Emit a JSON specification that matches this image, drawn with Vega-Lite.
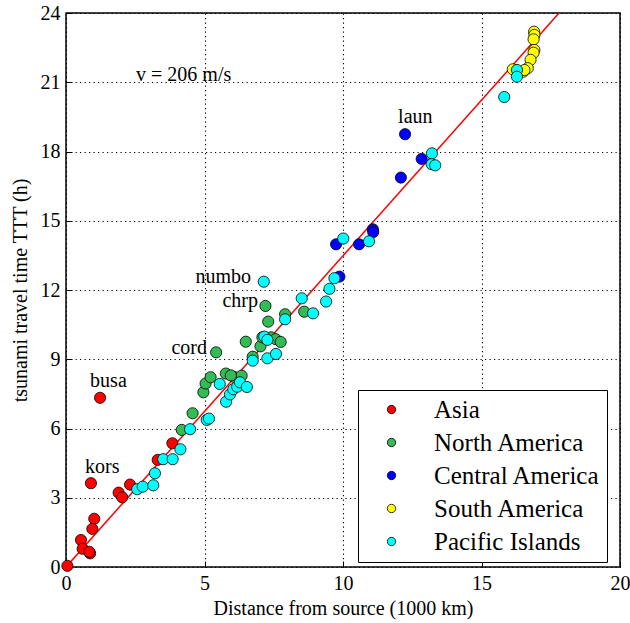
{
  "$schema": "https://vega.github.io/schema/vega-lite/v6.json",
  "autosize": "none",
  "width": 554,
  "height": 554,
  "padding": {"left": 66, "top": 13, "right": 10, "bottom": 56},
  "background": "white",
  "config": {
    "font": "Liberation Serif",
    "view": {"stroke": "black", "strokeWidth": 1.5},
    "axis": {
      "labelFont": "Liberation Serif",
      "titleFont": "Liberation Serif",
      "labelFontSize": 20,
      "titleFontSize": 20,
      "titleFontWeight": "normal",
      "labelColor": "black",
      "titleColor": "black",
      "domain": false,
      "tickColor": "black",
      "tickSize": -6,
      "tickWidth": 1,
      "gridColor": "black",
      "gridDash": [1.2, 3.3],
      "gridWidth": 1.1,
      "gridOpacity": 1,
      "labelPadding": 12
    }
  },
  "datasets": {
    "pts": [
      {"d": 0.05, "t": 0.05, "region": "Asia"},
      {"d": 0.54, "t": 1.17, "region": "Asia"},
      {"d": 0.6, "t": 0.79, "region": "Asia"},
      {"d": 0.87, "t": 0.59, "region": "Asia"},
      {"d": 0.84, "t": 0.66, "region": "Asia"},
      {"d": 1.02, "t": 2.09, "region": "Asia"},
      {"d": 0.95, "t": 1.65, "region": "Asia"},
      {"d": 0.9, "t": 3.63, "region": "Asia"},
      {"d": 1.23, "t": 7.33, "region": "Asia"},
      {"d": 1.9, "t": 3.22, "region": "Asia"},
      {"d": 2.03, "t": 3.02, "region": "Asia"},
      {"d": 2.31, "t": 3.57, "region": "Asia"},
      {"d": 3.31, "t": 4.64, "region": "Asia"},
      {"d": 3.84, "t": 5.36, "region": "Asia"},
      {"d": 4.18, "t": 5.94, "region": "North America"},
      {"d": 4.57, "t": 6.66, "region": "North America"},
      {"d": 4.96, "t": 7.57, "region": "North America"},
      {"d": 5.04, "t": 7.95, "region": "North America"},
      {"d": 5.22, "t": 8.22, "region": "North America"},
      {"d": 5.42, "t": 9.3, "region": "North America"},
      {"d": 5.77, "t": 8.38, "region": "North America"},
      {"d": 6.08, "t": 8.23, "region": "North America"},
      {"d": 6.34, "t": 8.29, "region": "North America"},
      {"d": 5.95, "t": 8.3, "region": "North America"},
      {"d": 6.49, "t": 9.76, "region": "North America"},
      {"d": 6.74, "t": 9.11, "region": "North America"},
      {"d": 7.02, "t": 9.56, "region": "North America"},
      {"d": 7.2, "t": 11.31, "region": "North America"},
      {"d": 7.3, "t": 10.63, "region": "North America"},
      {"d": 7.09, "t": 9.95, "region": "North America"},
      {"d": 7.4, "t": 9.95, "region": "North America"},
      {"d": 7.57, "t": 9.87, "region": "North America"},
      {"d": 7.75, "t": 9.75, "region": "North America"},
      {"d": 7.91, "t": 10.95, "region": "North America"},
      {"d": 8.6, "t": 11.06, "region": "North America"},
      {"d": 12.24, "t": 18.75, "region": "Central America"},
      {"d": 12.84, "t": 17.68, "region": "Central America"},
      {"d": 12.09, "t": 16.87, "region": "Central America"},
      {"d": 11.08, "t": 14.63, "region": "Central America"},
      {"d": 11.09, "t": 14.51, "region": "Central America"},
      {"d": 10.58, "t": 13.98, "region": "Central America"},
      {"d": 9.75, "t": 13.98, "region": "Central America"},
      {"d": 9.87, "t": 12.58, "region": "Central America"},
      {"d": 16.9, "t": 23.19, "region": "South America"},
      {"d": 16.91, "t": 23.05, "region": "South America"},
      {"d": 16.88, "t": 22.86, "region": "South America"},
      {"d": 16.91, "t": 22.4, "region": "South America"},
      {"d": 16.88, "t": 22.28, "region": "South America"},
      {"d": 16.77, "t": 21.97, "region": "South America"},
      {"d": 16.67, "t": 21.61, "region": "South America"},
      {"d": 16.51, "t": 21.46, "region": "South America"},
      {"d": 16.13, "t": 21.56, "region": "South America"},
      {"d": 16.55, "t": 21.53, "region": "South America"},
      {"d": 2.57, "t": 3.37, "region": "Pacific Islands"},
      {"d": 2.77, "t": 3.48, "region": "Pacific Islands"},
      {"d": 3.15, "t": 3.54, "region": "Pacific Islands"},
      {"d": 3.21, "t": 4.06, "region": "Pacific Islands"},
      {"d": 3.51, "t": 4.67, "region": "Pacific Islands"},
      {"d": 3.85, "t": 4.67, "region": "Pacific Islands"},
      {"d": 4.13, "t": 5.1, "region": "Pacific Islands"},
      {"d": 4.48, "t": 5.97, "region": "Pacific Islands"},
      {"d": 5.08, "t": 6.37, "region": "Pacific Islands"},
      {"d": 5.16, "t": 6.43, "region": "Pacific Islands"},
      {"d": 5.55, "t": 7.93, "region": "Pacific Islands"},
      {"d": 5.78, "t": 7.16, "region": "Pacific Islands"},
      {"d": 5.92, "t": 7.48, "region": "Pacific Islands"},
      {"d": 6.04, "t": 7.7, "region": "Pacific Islands"},
      {"d": 6.18, "t": 7.81, "region": "Pacific Islands"},
      {"d": 6.28, "t": 8.0, "region": "Pacific Islands"},
      {"d": 6.53, "t": 7.8, "region": "Pacific Islands"},
      {"d": 6.74, "t": 8.94, "region": "Pacific Islands"},
      {"d": 7.14, "t": 12.36, "region": "Pacific Islands"},
      {"d": 7.27, "t": 9.04, "region": "Pacific Islands"},
      {"d": 7.58, "t": 9.23, "region": "Pacific Islands"},
      {"d": 7.16, "t": 9.98, "region": "Pacific Islands"},
      {"d": 7.27, "t": 9.84, "region": "Pacific Islands"},
      {"d": 7.91, "t": 10.73, "region": "Pacific Islands"},
      {"d": 8.51, "t": 11.64, "region": "Pacific Islands"},
      {"d": 8.92, "t": 10.99, "region": "Pacific Islands"},
      {"d": 9.39, "t": 11.5, "region": "Pacific Islands"},
      {"d": 9.51, "t": 12.05, "region": "Pacific Islands"},
      {"d": 9.69, "t": 12.51, "region": "Pacific Islands"},
      {"d": 10.01, "t": 14.23, "region": "Pacific Islands"},
      {"d": 10.94, "t": 14.11, "region": "Pacific Islands"},
      {"d": 13.21, "t": 17.92, "region": "Pacific Islands"},
      {"d": 13.2, "t": 17.45, "region": "Pacific Islands"},
      {"d": 13.33, "t": 17.4, "region": "Pacific Islands"},
      {"d": 16.28, "t": 21.53, "region": "Pacific Islands"},
      {"d": 16.28, "t": 21.24, "region": "Pacific Islands"},
      {"d": 15.82, "t": 20.36, "region": "Pacific Islands"}
    ],
    "fit": [
      {"d": 0, "t": 0},
      {"d": 17.8, "t": 24}
    ],
    "labels": [
      {"d": 0.87, "t": 8.06, "name": "busa", "side": "left"},
      {"d": 0.69, "t": 4.33, "name": "kors", "side": "left"},
      {"d": 11.99, "t": 19.5, "name": "laun", "side": "left"},
      {"d": 5.09, "t": 9.49, "name": "cord", "side": "right"},
      {"d": 6.93, "t": 11.52, "name": "chrp", "side": "right"},
      {"d": 6.68, "t": 12.56, "name": "numbo", "side": "right"},
      {"d": 2.53, "t": 21.3, "name": "v = 206 m/s", "side": "left"}
    ]
  },
  "layer": [
    {
      "data": {"name": "fit"},
      "mark": {"type": "line", "color": "#ff0000", "strokeWidth": 1.5, "clip": true},
      "encoding": {
        "x": {"field": "d", "type": "quantitative", "scale": {"domain": [0, 20], "nice": false},
          "axis": {"values": [0, 5, 10, 15, 20], "title": "Distance from source (1000 km)", "titlePadding": 5, "labelFlush": false}},
        "y": {"field": "t", "type": "quantitative", "scale": {"domain": [0, 24], "nice": false},
          "axis": {"values": [0, 1.5, 3, 4.5, 6, 7.5, 9, 10.5, 12, 13.5, 15, 16.5, 18, 19.5, 21, 22.5, 24],
            "labelExpr": "datum.value % 3 == 0 ? datum.label : ''", "title": "tsunami travel time TTT (h)", "titlePadding": 10, "labelFlush": false}}
      }
    },
    {
      "data": {"name": "pts"},
      "mark": {"type": "point", "filled": true, "shape": "circle", "size": 125, "stroke": "black", "strokeWidth": 0.8, "opacity": 1},
      "encoding": {
        "x": {"field": "d", "type": "quantitative"},
        "y": {"field": "t", "type": "quantitative"},
        "fill": {
          "field": "region", "type": "nominal",
          "scale": {
            "domain": ["Asia", "North America", "Central America", "South America", "Pacific Islands"],
            "range": ["#ff0000", "#33bb55", "#0000ff", "#ffff00", "#00ffff"]
          },
          "legend": {
            "title": null,
            "orient": "none",
            "legendX": 292,
            "legendY": 377,
            "direction": "vertical",
            "labelFont": "Liberation Serif",
            "labelFontSize": 25,
            "labelColor": "black",
            "symbolSize": 70,
            "symbolStrokeColor": "black",
            "symbolStrokeWidth": 0.8,
            "symbolType": "circle",
            "rowPadding": 7,
            "labelOffset": 30,
            "padding": 7,
            "strokeColor": "black",
            "fillColor": "white",
            "symbolOffset": 14,
            "labelLimit": 300
          }
        }
      }
    },
    {
      "data": {"name": "labels"},
      "transform": [{"filter": "datum.side == 'left'"}],
      "mark": {"type": "text", "fontSize": 20, "font": "Liberation Serif", "baseline": "middle", "align": "left", "color": "black"},
      "encoding": {
        "x": {"field": "d", "type": "quantitative"},
        "y": {"field": "t", "type": "quantitative"},
        "text": {"field": "name"}
      }
    },
    {
      "data": {"name": "labels"},
      "transform": [{"filter": "datum.side == 'right'"}],
      "mark": {"type": "text", "fontSize": 20, "font": "Liberation Serif", "baseline": "middle", "align": "right", "color": "black"},
      "encoding": {
        "x": {"field": "d", "type": "quantitative"},
        "y": {"field": "t", "type": "quantitative"},
        "text": {"field": "name"}
      }
    }
  ]
}
